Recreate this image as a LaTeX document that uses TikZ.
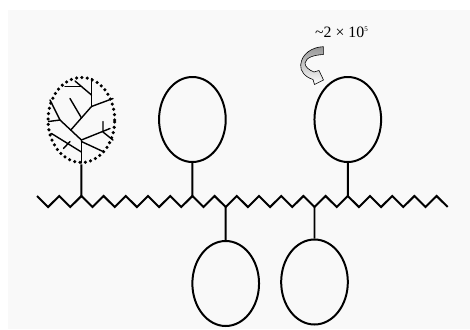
\documentclass[tikz,border=0pt]{standalone}
\usepackage{fontspec}
\setmainfont{Liberation Serif}
\usepackage{tikz}
\usetikzlibrary{shapes.geometric, calc}
\definecolor{PanelGrey}{RGB}{249, 249, 249}
\definecolor{ArrowGrey}{RGB}{150, 150, 150}

\begin{document}
\begin{tikzpicture}[
    x=0.03cm, y=-0.03cm,
    % Define styles for the elements
    side ball/.style={
        ellipse,
        draw=black,
        line width=1.7pt,
        inner sep=0pt,
        minimum width=2.0cm,
        minimum height=2.55cm
    },
    tree ball/.style={
        side ball,
        line width=3pt,
        line cap=round,
        dash pattern=on 0pt off 4.6pt
    },
    backbone/.style={
        line width=1.7pt,
        line join=miter
    },
    stem/.style={
        line width=1.7pt
    },
    twig/.style={
        line width=1.2pt,
        line cap=round
    }
]

    % --- Panel ---
    \useasboundingbox (0,0) rectangle (470,329);
    \fill[PanelGrey] (8,10) rectangle (470,329);

    % --- Backbone ---
    % zigzag chain, upper vertices u0..u18, lower vertices l1..l18
    \draw[backbone] (37,196) coordinate (u0)
        \foreach \k in {1,...,18} { -- ++(11.1,11) coordinate (l\k) -- ++(11.1,-11) coordinate (u\k) }
        -- ++(11.1,11) coordinate (lend);

    % --- Side chains above the backbone ---
    \node[tree ball] (tree) at (81.4,120) {};
    \node[side ball] (ballA) at (192.4,119.5) {};
    \node[side ball] (ballB) at (347.8,119.5) {};

    % --- Side chains below the backbone ---
    \node[side ball] (ballC) at (225.7,283.5) {};
    \node[side ball] (ballD) at (314.5,282) {};

    % --- Stems ---
    \draw[stem] (tree) -- (u2);
    \draw[stem] (ballA) -- (u7);
    \draw[stem] (ballB) -- (u14);
    \draw[stem] (ballC) -- (l9);
    \draw[stem] (ballD) -- (l13);

    % --- Branched interior of the first side chain ---
    \draw[twig] (81.4,163) -- (81.4,140);
    \draw[twig] (81.4,152) -- (51.5,133.5);
    \draw[twig] (63.5,148.5) -- (70,141.5);
    \draw[twig] (81.4,141.5) -- (103,151.5);
    \draw[twig] (81.4,140) -- (110,128.5);
    \draw[twig] (103,121.5) -- (103,132) -- (113,140);
    \draw[twig] (81.4,140) -- (60,120) -- (50,100);
    \draw[twig] (48.5,121.5) -- (60,120);
    \draw[twig] (70.8,130) -- (91.5,106.5) -- (113,98.5);
    \draw[twig] (91.5,106.5) -- (91.5,78.5);
    \draw[twig] (75,81) -- (91.5,95);
    \draw[twig] (65,86.5) -- (81.5,86.5);
    \draw[twig] (70,98.5) -- (81.5,118);

    % --- Exchange arrow and count ---
    \node[font=\fontsize{13.5}{14}\selectfont, inner sep=0pt] (count) at (341.5,32)
        {\textasciitilde 2\hspace{0.25em}×\hspace{0.25em}10\raisebox{0.75ex}{\fontsize{6}{6}\selectfont 5}};
    \draw[draw=black, line width=0.5pt, top color=ArrowGrey, bottom color=white, shading angle=0]
        (323.3,46.7) -- (323.3,54.5)
        .. controls (315,55) and (306,57) .. (305,63)
        .. controls (305,67) and (309,70) .. (314,72)
        -- (319,70.5) -- (323.5,80) -- (314.5,84.5) -- (313,79.5)
        .. controls (305,77) and (300,71) .. (300.7,65)
        .. controls (301.5,54) and (312,47) .. (323.3,46.7) -- cycle;

\end{tikzpicture}
\end{document}
